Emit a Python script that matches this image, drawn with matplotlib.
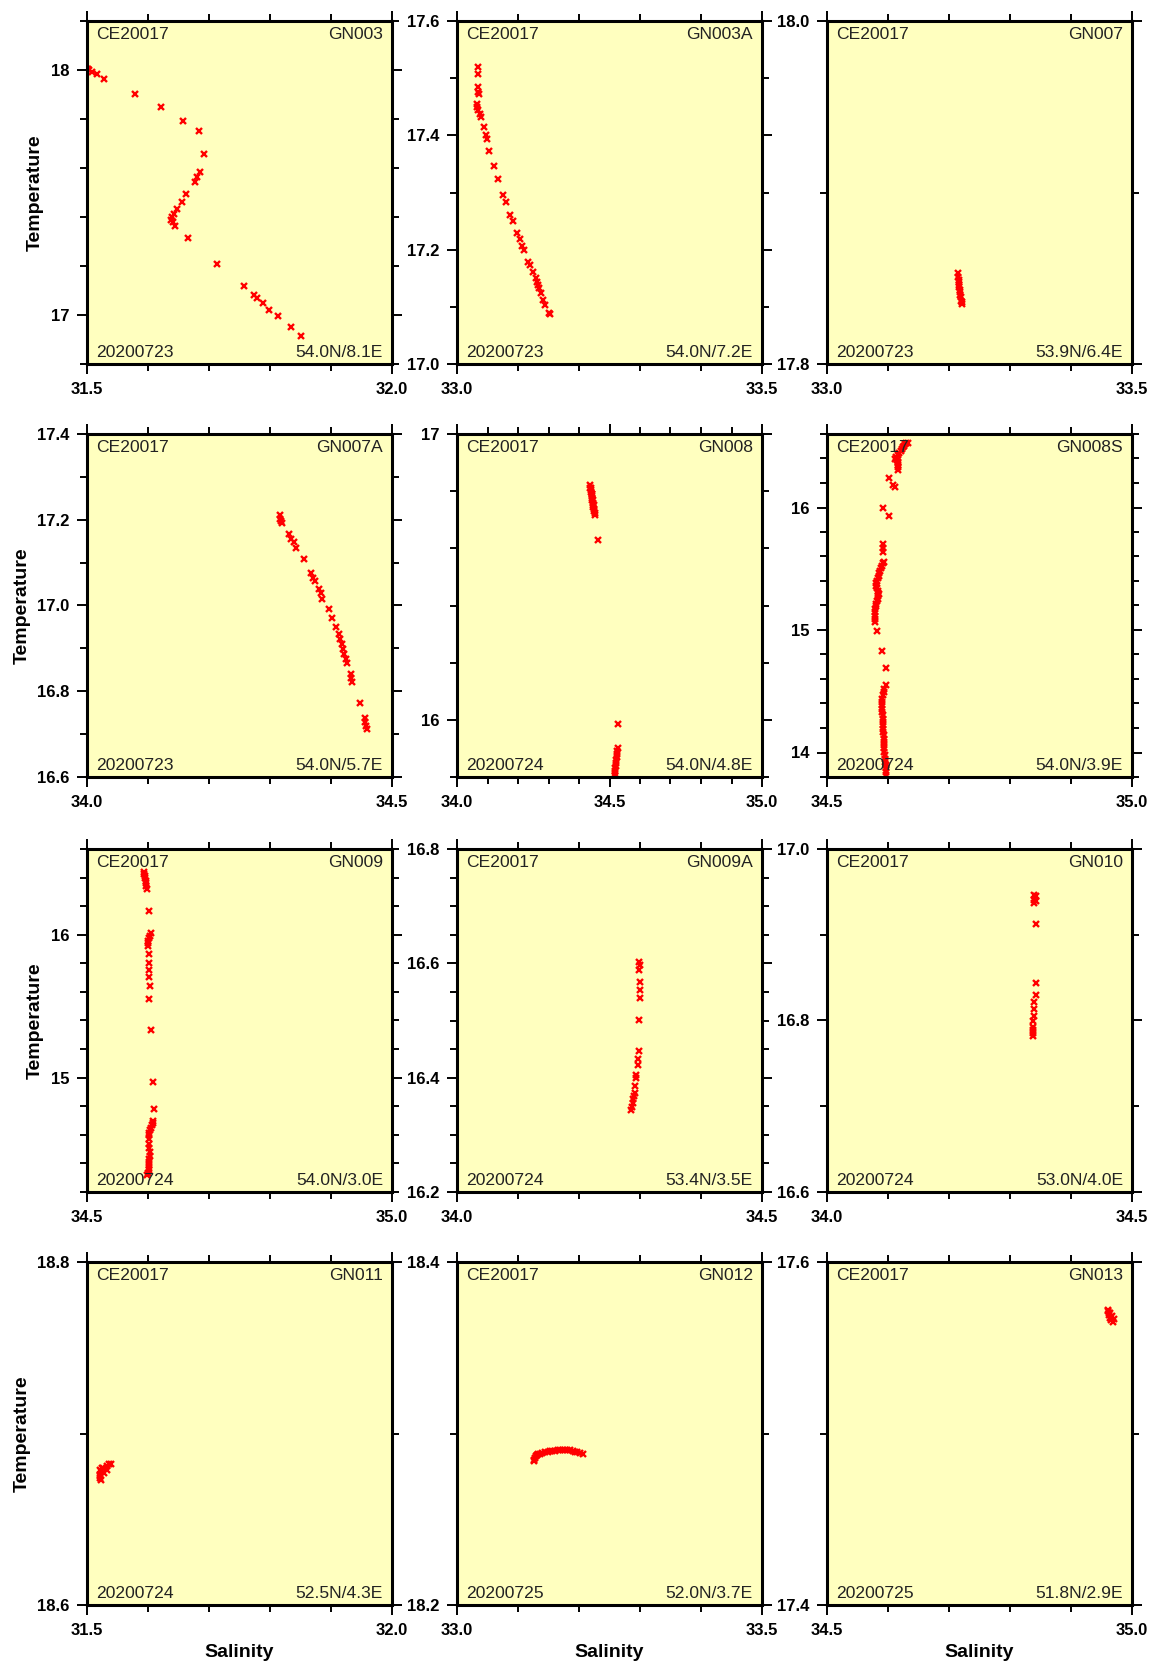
import matplotlib.pyplot as plt
from matplotlib.ticker import MultipleLocator, FormatStrFormatter

plt.rcParams['font.family'] = ['Liberation Sans', 'DejaVu Sans']

cruise = 'CE20017'
stations = ['GN003', 'GN003A', 'GN007', 'GN007A', 'GN008', 'GN008S',
            'GN009', 'GN009A', 'GN010', 'GN011', 'GN012', 'GN013']
dates = ['20200723', '20200723', '20200723', '20200723', '20200724', '20200724',
         '20200724', '20200724', '20200724', '20200724', '20200725', '20200725']
positions = ['54.0N/8.1E', '54.0N/7.2E', '53.9N/6.4E', '54.0N/5.7E', '54.0N/4.8E', '54.0N/3.9E',
             '54.0N/3.0E', '53.4N/3.5E', '53.0N/4.0E', '52.5N/4.3E', '52.0N/3.7E', '51.8N/2.9E']

sal_ranges = [(31.5, 32.0), (33.0, 33.5), (33.0, 33.5), (34.0, 34.5), (34.0, 35.0), (34.5, 35.0),
              (34.5, 35.0), (34.0, 34.5), (34.0, 34.5), (31.5, 32.0), (33.0, 33.5), (34.5, 35.0)]
temp_ranges = [(16.8, 18.2), (17.0, 17.6), (17.8, 18.0), (16.6, 17.4), (15.8, 17.0), (13.8, 16.6),
               (14.2, 16.6), (16.2, 16.8), (16.6, 17.0), (18.6, 18.8), (18.2, 18.4), (17.4, 17.6)]
# (major step, minor step, label format) for temperature axis
temp_ticks = [(1, 0.2, '%.0f'), (0.2, 0.1, '%.1f'), (0.2, 0.1, '%.1f'), (0.2, 0.1, '%.1f'),
              (1, 0.2, '%.0f'), (1, 0.2, '%.0f'), (1, 0.2, '%.0f'), (0.2, 0.05, '%.1f'),
              (0.2, 0.1, '%.1f'), (0.2, 0.1, '%.1f'), (0.2, 0.1, '%.1f'), (0.2, 0.1, '%.1f')]

gn003_sal = [31.500, 31.501, 31.504, 31.508, 31.516, 31.528, 31.579, 31.621, 31.657, 31.683,
             31.691, 31.685, 31.680, 31.677, 31.662, 31.656, 31.648, 31.642, 31.639, 31.637,
             31.641, 31.645, 31.665, 31.713, 31.757, 31.773, 31.779, 31.788, 31.799, 31.813,
             31.835, 31.851]
gn003_temp = [18.003, 18.003, 17.999, 17.993, 17.982, 17.963, 17.904, 17.848, 17.793, 17.751,
              17.657, 17.584, 17.565, 17.542, 17.495, 17.463, 17.431, 17.413, 17.400, 17.386,
              17.379, 17.363, 17.316, 17.207, 17.118, 17.081, 17.070, 17.047, 17.020, 16.996,
              16.951, 16.916]

gn003a_sal = [33.034, 33.034, 33.034, 33.035, 33.036, 33.032, 33.033, 33.034, 33.037, 33.039,
              33.044, 33.047, 33.049, 33.053, 33.061, 33.068, 33.076, 33.080, 33.087, 33.092,
              33.098, 33.104, 33.106, 33.110, 33.117, 33.119, 33.124, 33.129, 33.131, 33.132,
              33.134, 33.137, 33.141, 33.144, 33.150, 33.153]
gn003a_temp = [17.520, 17.507, 17.484, 17.476, 17.473, 17.454, 17.450, 17.445, 17.438, 17.432,
               17.414, 17.401, 17.394, 17.373, 17.347, 17.323, 17.296, 17.284, 17.261, 17.250,
               17.230, 17.219, 17.207, 17.199, 17.178, 17.174, 17.161, 17.150, 17.144, 17.138,
               17.133, 17.124, 17.112, 17.103, 17.090, 17.087]

gn007_sal = [33.2148, 33.2152, 33.2157, 33.2160, 33.2165, 33.2170, 33.2176, 33.2180, 33.2187,
             33.2192, 33.2200, 33.2208, 33.2215]
gn007_temp = [17.853, 17.851, 17.849, 17.848, 17.846, 17.845, 17.843, 17.842, 17.840,
              17.839, 17.837, 17.836, 17.835]

gn007a_sal = [34.316, 34.317, 34.318, 34.320, 34.331, 34.334, 34.339, 34.343, 34.356, 34.367,
              34.370, 34.374, 34.381, 34.383, 34.386, 34.396, 34.402, 34.408, 34.413, 34.415,
              34.418, 34.420, 34.422, 34.424, 34.426, 34.432, 34.433, 34.434, 34.447, 34.455,
              34.456, 34.458, 34.459]
gn007a_temp = [17.210, 17.202, 17.197, 17.193, 17.166, 17.156, 17.148, 17.135, 17.108, 17.075,
               17.065, 17.057, 17.038, 17.029, 17.015, 16.993, 16.972, 16.950, 16.933, 16.922,
               16.910, 16.898, 16.887, 16.875, 16.865, 16.840, 16.830, 16.821, 16.773, 16.737,
               16.728, 16.720, 16.712]

gn008_sal = [34.436, 34.437, 34.438, 34.440, 34.441, 34.442, 34.443, 34.444, 34.445, 34.446,
             34.447, 34.448, 34.449, 34.451, 34.453, 34.440, 34.444, 34.446, 34.449, 34.461,
             34.527, 34.528, 34.526, 34.524, 34.523, 34.522, 34.521, 34.520, 34.519, 34.518,
             34.518, 34.517]
gn008_temp = [16.820, 16.812, 16.805, 16.798, 16.790, 16.782, 16.775, 16.768, 16.760, 16.752,
              16.745, 16.737, 16.730, 16.722, 16.716, 16.810, 16.790, 16.770, 16.750, 16.630,
              15.985, 15.900, 15.892, 15.880, 15.870, 15.860, 15.850, 15.840, 15.830, 15.820,
              15.810, 15.803]

gn008s_sal = [34.632, 34.630, 34.628, 34.627, 34.625, 34.623, 34.621, 34.618, 34.616, 34.613,
              34.612, 34.615, 34.617, 34.617, 34.616, 34.616, 34.616, 34.602, 34.609, 34.612,
              34.591, 34.601, 34.591, 34.591, 34.592, 34.593, 34.592, 34.590, 34.588, 34.587,
              34.586, 34.585, 34.583, 34.582, 34.581, 34.581, 34.582, 34.583, 34.584, 34.585,
              34.584, 34.583, 34.582, 34.581, 34.580, 34.579, 34.578, 34.578, 34.578, 34.578,
              34.582, 34.590, 34.596, 34.596, 34.594, 34.593, 34.591, 34.590, 34.590, 34.590,
              34.590, 34.590, 34.591, 34.591, 34.591, 34.592, 34.592, 34.592, 34.593, 34.593,
              34.593, 34.594, 34.594, 34.594, 34.595, 34.595, 34.595, 34.596, 34.596, 34.596,
              34.596]
gn008s_temp = [16.530, 16.525, 16.515, 16.505, 16.490, 16.475, 16.460, 16.445, 16.430, 16.415,
               16.400, 16.390, 16.375, 16.360, 16.345, 16.330, 16.310, 16.239, 16.185, 16.165,
               16.000, 15.927, 15.701, 15.670, 15.639, 15.558, 15.545, 15.525, 15.505, 15.484,
               15.464, 15.444, 15.424, 15.403, 15.383, 15.362, 15.342, 15.322, 15.305, 15.294,
               15.274, 15.254, 15.233, 15.213, 15.192, 15.172, 15.145, 15.118, 15.090, 15.062,
               14.995, 14.828, 14.689, 14.554, 14.520, 14.494, 14.467, 14.440, 14.413, 14.386,
               14.358, 14.331, 14.304, 14.277, 14.250, 14.222, 14.195, 14.168, 14.141, 14.114,
               14.087, 14.060, 14.033, 14.006, 13.979, 13.951, 13.924, 13.897, 13.870, 13.843,
               13.815]

gn009_sal = [34.594, 34.594, 34.595, 34.595, 34.596, 34.596, 34.597, 34.598, 34.602, 34.605,
             34.603, 34.602, 34.600, 34.600, 34.600, 34.602, 34.602, 34.602, 34.602, 34.603,
             34.602, 34.605, 34.609, 34.610, 34.609, 34.608, 34.607, 34.605, 34.603, 34.602,
             34.601, 34.601, 34.602, 34.602, 34.603, 34.603, 34.602, 34.602, 34.602, 34.601,
             34.601, 34.600, 34.599]
gn009_temp = [16.440, 16.425, 16.412, 16.395, 16.377, 16.360, 16.342, 16.323, 16.166, 16.009,
              15.990, 15.979, 15.956, 15.940, 15.920, 15.867, 15.803, 15.756, 15.703, 15.644,
              15.550, 15.335, 14.967, 14.780, 14.698, 14.680, 14.667, 14.650, 14.632, 14.615,
              14.597, 14.570, 14.539, 14.510, 14.480, 14.455, 14.433, 14.410, 14.386, 14.365,
              14.351, 14.335, 14.316]

gn009a_sal = [34.299, 34.300, 34.299, 34.300, 34.300, 34.300, 34.299, 34.298, 34.297, 34.296,
              34.294, 34.293, 34.292, 34.292, 34.290, 34.289, 34.288, 34.287, 34.286]
gn009a_temp = [16.603, 16.597, 16.589, 16.568, 16.554, 16.539, 16.501, 16.446, 16.432, 16.423,
               16.405, 16.400, 16.385, 16.373, 16.368, 16.362, 16.355, 16.349, 16.344]

gn010_sal = [34.340, 34.342, 34.340, 34.342, 34.340, 34.342, 34.342, 34.342, 34.340, 34.339,
             34.339, 34.338, 34.338, 34.337, 34.337, 34.337]
gn010_temp = [16.946, 16.945, 16.941, 16.939, 16.937, 16.912, 16.844, 16.830, 16.821, 16.813,
              16.805, 16.799, 16.793, 16.789, 16.786, 16.782]

gn011_sal = [31.521, 31.522, 31.523, 31.521, 31.525, 31.527, 31.532, 31.536, 31.539, 31.523,
             31.522, 31.528, 31.533]
gn011_temp = [18.674, 18.676, 18.678, 18.679, 18.680, 18.680, 18.681, 18.682, 18.682, 18.673,
              18.675, 18.677, 18.679]

gn012_sal = [33.1265, 33.1270, 33.1281, 33.1295, 33.1309, 33.1335, 33.1363, 33.1400, 33.1445,
             33.1485, 33.1527, 33.1565, 33.1608, 33.1650, 33.1690, 33.1730, 33.1772, 33.1810,
             33.1854, 33.1895, 33.1936, 33.1975, 33.2017, 33.2061]
gn012_temp = [18.2838, 18.2848, 18.2858, 18.2866, 18.2873, 18.2879, 18.2883, 18.2887, 18.2891,
              18.2894, 18.2896, 18.2898, 18.2900, 18.2903, 18.2906, 18.2906, 18.2906, 18.2904,
              18.2902, 18.2898, 18.2893, 18.2890, 18.2887, 18.2881]

gn013_sal = [34.9607, 34.9617, 34.9628, 34.9645, 34.9661, 34.9689, 34.9699, 34.9672, 34.9645,
             34.9612, 34.9660]
gn013_temp = [17.5719, 17.5704, 17.5690, 17.5675, 17.5661, 17.5652, 17.5667, 17.5686, 17.5700,
              17.5712, 17.5678]

sal_data = [gn003_sal, gn003a_sal, gn007_sal, gn007a_sal, gn008_sal, gn008s_sal,
            gn009_sal, gn009a_sal, gn010_sal, gn011_sal, gn012_sal, gn013_sal]
temp_data = [gn003_temp, gn003a_temp, gn007_temp, gn007a_temp, gn008_temp, gn008s_temp,
             gn009_temp, gn009a_temp, gn010_temp, gn011_temp, gn012_temp, gn013_temp]

W, H = 1154, 1670
fig = plt.figure(figsize=(W / 100, H / 100), dpi=100)

col_left = [87, 457, 827]
row_top = [21, 434, 849, 1262]
pw, ph = 305, 343

for i in range(12):
    r, c = divmod(i, 3)
    ax = fig.add_axes([col_left[c] / W, 1 - (row_top[r] + ph) / H, pw / W, ph / H])
    ax.set_facecolor('#FFFFBF')
    ax.plot(sal_data[i], temp_data[i], linestyle='none', marker='x', color='red',
            markersize=5, markeredgewidth=1.7)
    ax.set_xlim(*sal_ranges[i])
    ax.set_ylim(*temp_ranges[i])

    ax.xaxis.set_major_locator(MultipleLocator(0.5))
    ax.xaxis.set_minor_locator(MultipleLocator(0.1))
    ax.xaxis.set_major_formatter(FormatStrFormatter('%.1f'))
    major, minor, fmt = temp_ticks[i]
    ax.yaxis.set_major_locator(MultipleLocator(major))
    ax.yaxis.set_minor_locator(MultipleLocator(minor))
    ax.yaxis.set_major_formatter(FormatStrFormatter(fmt))

    ax.tick_params(which='both', direction='out', top=True, right=True, width=1.4,
                   labelsize=12)
    ax.tick_params(which='major', length=7.5)
    ax.tick_params(which='minor', length=5.2)
    ax.tick_params(axis='x', pad=5.5)
    ax.tick_params(axis='y', pad=5)
    for lab in ax.get_xticklabels() + ax.get_yticklabels():
        lab.set_fontweight('bold')
    for sp in ax.spines.values():
        sp.set_linewidth(2.2)

    txt = dict(xycoords='axes fraction', textcoords='offset points', fontsize=12.6, color='#222222')
    ax.annotate(cruise, (0, 1), xytext=(6.5, -4), ha='left', va='top', **txt)
    ax.annotate(stations[i], (1, 1), xytext=(-6.5, -4), ha='right', va='top', **txt)
    ax.annotate(dates[i], (0, 0), xytext=(6.5, 5), ha='left', va='baseline', **txt)
    ax.annotate(positions[i], (1, 0), xytext=(-6.5, 5), ha='right', va='baseline', **txt)

    if c == 0:
        ax.set_ylabel('Temperature', fontsize=14, fontweight='bold', labelpad=5)
    if r == 3:
        ax.set_xlabel('Salinity', fontsize=14, fontweight='bold', labelpad=4)

fig.savefig('out.png', dpi=100)
